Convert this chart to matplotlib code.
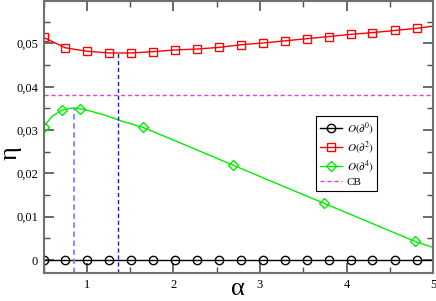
import matplotlib
matplotlib.use('Agg')
import matplotlib.pyplot as plt
from matplotlib.ticker import MultipleLocator, FuncFormatter

plt.rcParams['font.family'] = ['Liberation Serif', 'DejaVu Serif']
plt.rcParams['mathtext.fontset'] = 'stix'

# marker grid shared by the O(d^0) and O(d^2) curves, last point is the line end
alpha_grid = [0.5, 0.75, 1.0, 1.26, 1.51, 1.76, 2.02, 2.27, 2.53, 2.78, 3.03,
              3.29, 3.54, 3.80, 4.05, 4.30, 4.56, 4.81, 5.0]
eta_o0 = [0.0] * len(alpha_grid)
eta_o2 = [0.0514, 0.0490, 0.0482, 0.0478, 0.0478, 0.0481, 0.0485, 0.0487,
          0.0491, 0.0497, 0.0501, 0.0506, 0.0511, 0.0516, 0.0521, 0.0525,
          0.0530, 0.0535, 0.0540]

# O(d^4): curve samples, markers on a subset
alpha_o4 = [0.5, 0.6, 0.71, 0.8, 0.85, 0.92, 1.0, 1.2, 1.4, 1.65, 2.0, 2.69,
            3.2, 3.74, 4.3, 4.79, 5.0]
eta_o4 = [0.0308, 0.0332, 0.0346, 0.0350, 0.0351, 0.0349, 0.0346, 0.0335,
          0.0321, 0.0306, 0.0277, 0.0219, 0.0176, 0.0131, 0.0084, 0.0043, 0.0029]
o4_marks = [0, 2, 5, 9, 11, 13, 15]

eta_cb = 0.0381
alpha_min_o2, eta_min_o2 = 1.36, 0.0478
alpha_max_o4, eta_max_o4 = 0.85, 0.0351

fig = plt.figure(figsize=(4.36, 3.01), dpi=100)
ax = fig.add_axes([0.0998, 0.093, 0.8935, 0.9037])

ax.plot(alpha_grid, eta_o0, color='black', lw=1, marker='o', ms=6, mfc='none',
        mec='black', mew=1, markevery=list(range(18)), label=r'$O(\partial^0)$')
ax.plot(alpha_grid, eta_o2, color='red', lw=1, marker='s', ms=6, mfc='none',
        mec='red', mew=1, markevery=list(range(18)), label=r'$O(\partial^2)$')
ax.plot(alpha_o4, eta_o4, color='#00ee00', lw=1, marker='D', ms=5, mfc='none',
        mec='#00ee00', mew=1, markevery=o4_marks, label=r'$O(\partial^4)$')
ax.axhline(eta_cb, color='#e040e0', lw=1, ls=(0, (3, 2)), label='CB')

ax.plot([alpha_min_o2, alpha_min_o2], [-0.003, eta_min_o2], color='#2020b0',
        lw=1, ls=(0, (3, 2)))
ax.plot([alpha_max_o4, alpha_max_o4], [-0.003, eta_max_o4], color='#8080ff',
        lw=1.3, ls=(0, (3, 2)))

ax.set_xlim(0.5, 5)
ax.set_ylim(-0.003, 0.0598)
ax.xaxis.set_major_locator(MultipleLocator(1))
ax.xaxis.set_minor_locator(MultipleLocator(0.5))
ax.yaxis.set_major_locator(MultipleLocator(0.01))
ax.yaxis.set_minor_locator(MultipleLocator(0.005))


def comma_fmt(v, pos):
    if abs(v) < 1e-9:
        return '0'
    return f'{v:.2f}'.replace('.', ',')


ax.yaxis.set_major_formatter(FuncFormatter(comma_fmt))
ax.xaxis.set_major_formatter(FuncFormatter(lambda v, p: f'{v:g}'))

for s in ax.spines.values():
    s.set_color('#707070')
    s.set_linewidth(1.5)
ax.tick_params(which='both', direction='in', top=True, right=True,
               color='#505050', labelsize=9, pad=4)
ax.tick_params(which='major', length=7, width=1.2)
ax.tick_params(which='minor', length=4, width=1)

ax.set_xlabel('α', fontsize=19, va='center')
ax.xaxis.set_label_coords(0.5, -0.06)
ax.set_ylabel('η', fontsize=19, va='center', rotation=90)
ax.yaxis.set_label_coords(-0.085, 0.44)

leg = ax.legend(loc='upper left', bbox_to_anchor=(0.70, 0.578), fontsize=8,
                handlelength=2.0, handletextpad=0.4, borderpad=0.35,
                labelspacing=0.2, borderaxespad=0, fancybox=False, framealpha=1)
leg.get_frame().set_edgecolor('black')
leg.get_frame().set_linewidth(0.8)

fig.savefig('out.png', dpi=100)
